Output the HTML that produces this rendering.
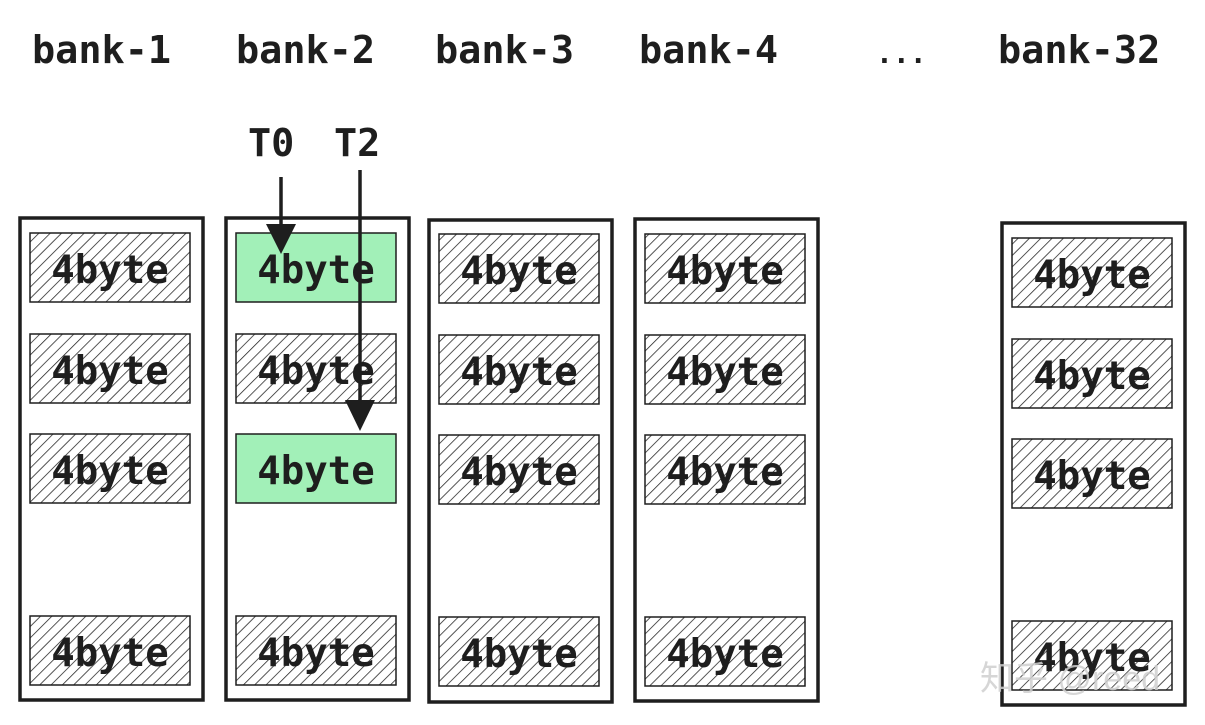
<!DOCTYPE html>
<html><head><meta charset="utf-8"><style>
html,body{margin:0;padding:0;background:#fff;}
svg{display:block}
text{font-family:"DejaVu Sans Mono","Liberation Mono",monospace;fill:#1e1e1e;}
</style></head><body>
<svg width="1205" height="725" viewBox="0 0 1205 725" xmlns="http://www.w3.org/2000/svg">
<defs>
<pattern id="h" patternUnits="userSpaceOnUse" width="8" height="8" patternTransform="rotate(45)">
<line x1="0" y1="0" x2="0" y2="8" stroke="#1e1e1e" stroke-width="1.5"/>
</pattern>
</defs>
<g font-size="38.5" font-weight="bold">
<text x="32" y="63">bank-1</text>
<text x="236" y="63">bank-2</text>
<text x="435" y="63">bank-3</text>
<text x="639" y="63">bank-4</text>
<text x="998" y="63">bank-32</text>
<text x="248" y="156">T0</text>
<text x="334" y="156">T2</text>
</g>
<text x="876" y="63" font-size="28" font-weight="bold">...</text>
<g fill="none" stroke="#1e1e1e" stroke-width="3.5">
<rect x="20" y="218" width="183" height="482"/>
<rect x="226" y="218" width="183" height="482"/>
<rect x="429" y="220" width="183" height="482"/>
<rect x="635" y="219" width="183" height="482"/>
<rect x="1002" y="223" width="183" height="482"/>
</g>
<g stroke="#1e1e1e" stroke-width="1.5">
<rect x="30" y="233" width="160" height="69" fill="url(#h)"/>
<rect x="30" y="334" width="160" height="69" fill="url(#h)"/>
<rect x="30" y="434" width="160" height="69" fill="url(#h)"/>
<rect x="30" y="616" width="160" height="69" fill="url(#h)"/>
<rect x="236" y="233" width="160" height="69" fill="#a2f0b8"/>
<rect x="236" y="334" width="160" height="69" fill="url(#h)"/>
<rect x="236" y="434" width="160" height="69" fill="#a2f0b8"/>
<rect x="236" y="616" width="160" height="69" fill="url(#h)"/>
<rect x="439" y="234" width="160" height="69" fill="url(#h)"/>
<rect x="439" y="335" width="160" height="69" fill="url(#h)"/>
<rect x="439" y="435" width="160" height="69" fill="url(#h)"/>
<rect x="439" y="617" width="160" height="69" fill="url(#h)"/>
<rect x="645" y="234" width="160" height="69" fill="url(#h)"/>
<rect x="645" y="335" width="160" height="69" fill="url(#h)"/>
<rect x="645" y="435" width="160" height="69" fill="url(#h)"/>
<rect x="645" y="617" width="160" height="69" fill="url(#h)"/>
<rect x="1012" y="238" width="160" height="69" fill="url(#h)"/>
<rect x="1012" y="339" width="160" height="69" fill="url(#h)"/>
<rect x="1012" y="439" width="160" height="69" fill="url(#h)"/>
<rect x="1012" y="621" width="160" height="69" fill="url(#h)"/>
</g>
<g font-size="39" font-weight="bold" text-anchor="middle">
<text x="110" y="283">4byte</text><text x="110" y="384">4byte</text><text x="110" y="484">4byte</text><text x="110" y="666">4byte</text>
<text x="316" y="283">4byte</text><text x="316" y="384">4byte</text><text x="316" y="484">4byte</text><text x="316" y="666">4byte</text>
<text x="519" y="284">4byte</text><text x="519" y="385">4byte</text><text x="519" y="485">4byte</text><text x="519" y="667">4byte</text>
<text x="725" y="284">4byte</text><text x="725" y="385">4byte</text><text x="725" y="485">4byte</text><text x="725" y="667">4byte</text>
<text x="1092" y="288">4byte</text><text x="1092" y="389">4byte</text><text x="1092" y="489">4byte</text><text x="1092" y="671">4byte</text>
</g>
<g stroke="#1e1e1e" stroke-width="3.5">
<line x1="281" y1="177" x2="281" y2="230"/>
<line x1="360" y1="170" x2="360" y2="405"/>
</g>
<g fill="#1e1e1e">
<polygon points="266,224 296,224 281,254"/>
<polygon points="345,400 375,400 360,431"/>
</g>
<text x="980" y="690" font-size="34" style="fill:#d0d0d0;font-family:'Liberation Sans','Noto Sans CJK SC',sans-serif" opacity="0.85">知乎 @reed</text>
</svg>
</body></html>
